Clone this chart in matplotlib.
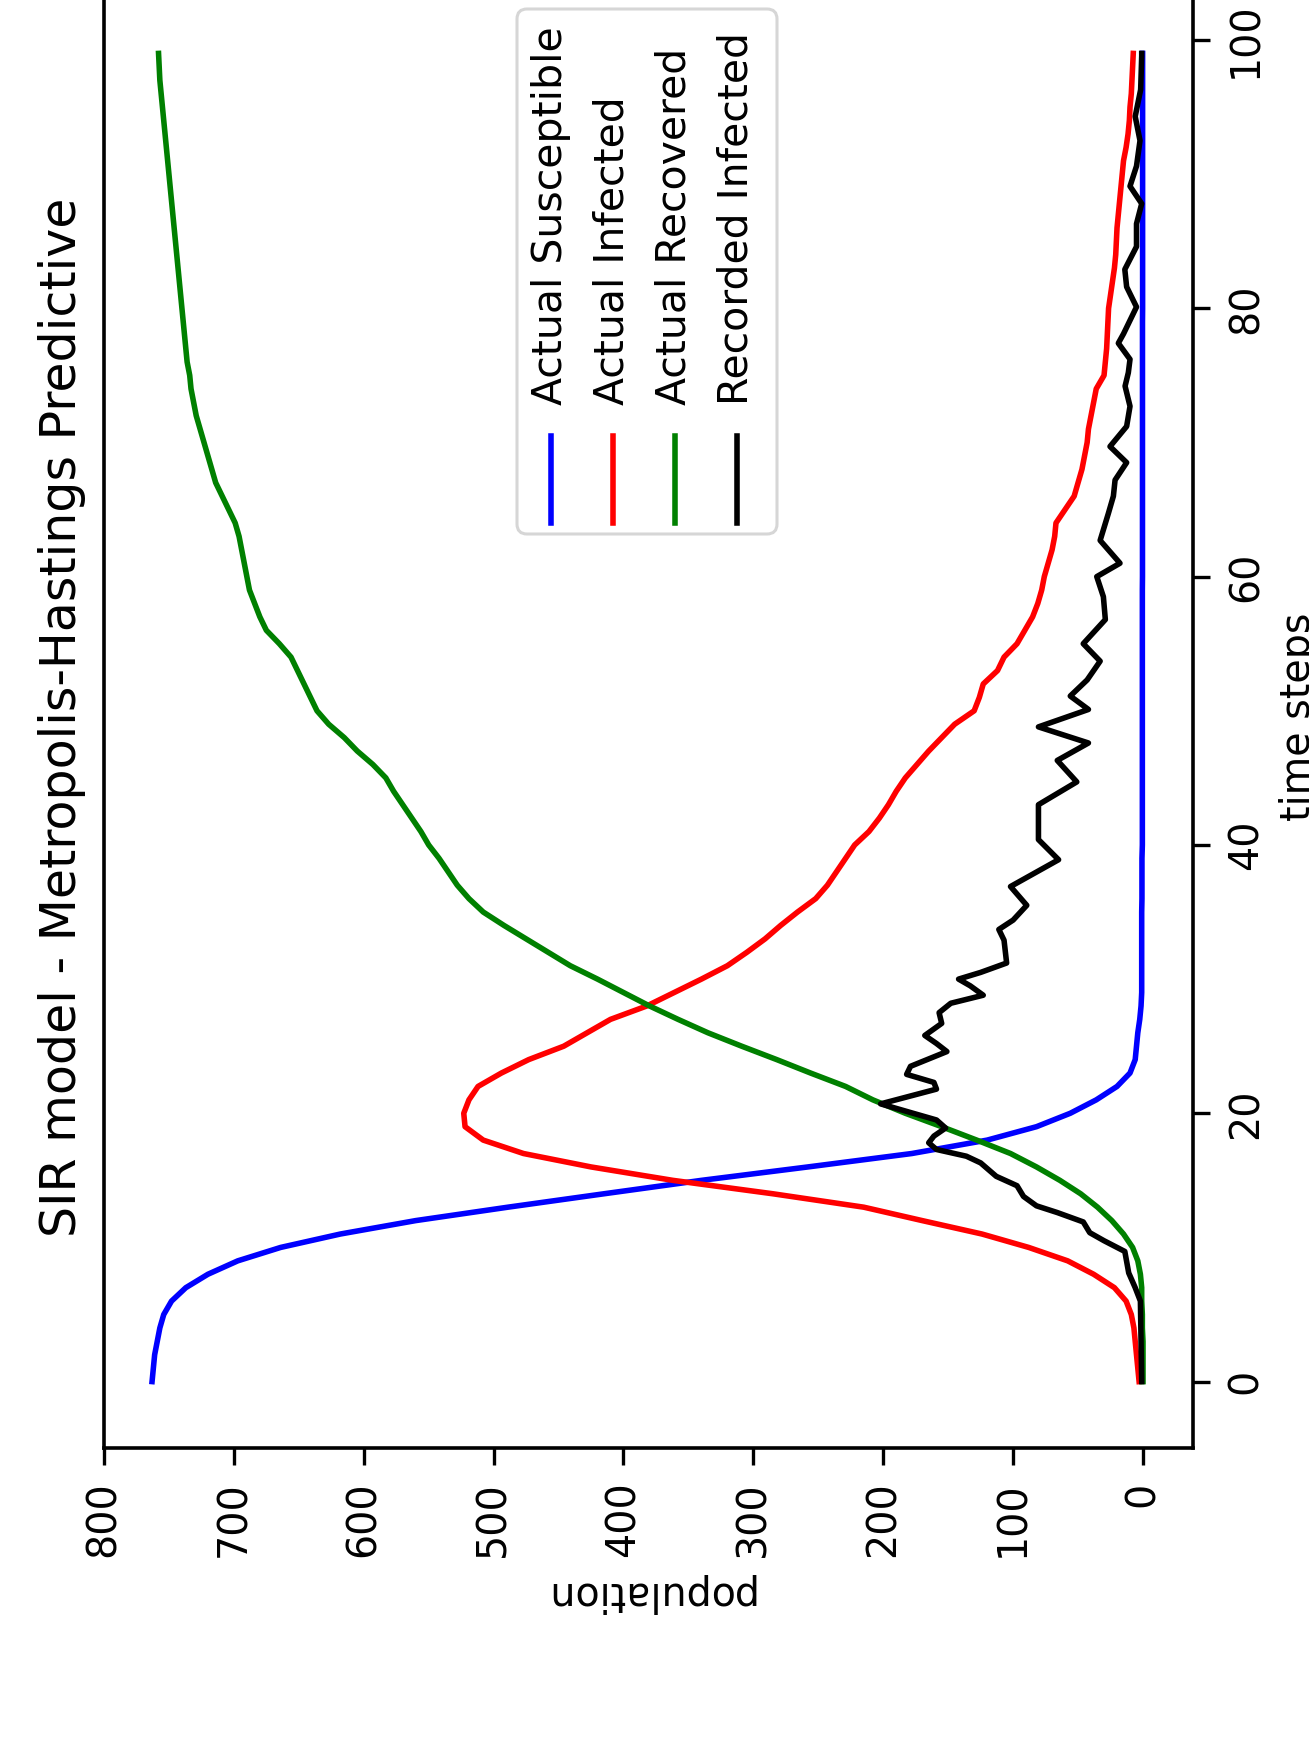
import matplotlib
matplotlib.use("Agg")
import matplotlib.pyplot as plt
import numpy as np
from matplotlib.lines import Line2D
from matplotlib.patches import FancyBboxPatch
from matplotlib.transforms import IdentityTransform

# ---------------- data ----------------
time_steps = np.arange(100)

susceptible = [
    763, 762, 761, 759, 757, 754, 748, 737, 720, 697,
    664, 618, 560, 489, 415, 340, 258, 178, 120, 82,
    56, 36, 20, 10, 6, 5, 4, 2.5, 1.5, 1,
    1, 1, 1, 1, 1, 1, 0.8, 0.8, 0.8, 0.8,
    0.5, 0.5, 0.5, 0.5, 0.5, 0.5, 0.5, 0.5, 0.5, 0.5,
    0.5, 0.5, 0.5, 0.5, 0.5, 0.5, 0.5, 0.5, 0.5, 0.5,
    0.4, 0.4, 0.4, 0.4, 0.4, 0.4, 0.4, 0.4, 0.4, 0.4,
    0.4, 0.4, 0.4, 0.4, 0.4, 0.4, 0.4, 0.4, 0.4, 0.4,
    0.3, 0.3, 0.3, 0.3, 0.3, 0.3, 0.3, 0.3, 0.3, 0.3,
    0.3, 0.3, 0.3, 0.3, 0.3, 0.3, 0.3, 0.3, 0.3, 0.3,
]

infected = [
    3, 4, 5, 6, 7, 9, 13, 22, 38, 58,
    88, 124, 170, 215, 285, 362, 425, 477, 508, 522,
    523, 519, 512, 494, 473, 446, 428, 410, 382, 361,
    340, 320, 305, 291, 279, 266, 252, 243, 236, 229,
    222, 211, 203, 196, 190, 183, 174, 165, 155, 145,
    130, 126, 123, 112, 107, 97, 91, 85, 81, 78,
    76, 73, 70, 68, 67, 60, 53, 50, 47, 45,
    43, 42, 40, 38, 36, 30, 29, 28, 27.5, 27,
    26.5, 25, 23.5, 22, 21, 20.5, 20, 19, 18, 17,
    16, 15, 13, 11.5, 10.5, 10, 9, 8.5, 8, 7.5,
]

recovered = [
    0, 0, 0, 0, 0.5, 0.5, 1, 1, 2, 4,
    8, 15, 24, 35, 48, 64, 82, 102, 128, 155,
    183, 208, 229, 256, 282, 309, 335, 358, 380, 400,
    420, 441, 458, 475, 492, 508, 519, 528, 535, 542,
    550, 556, 563, 570, 577, 583, 593, 605, 615, 627,
    636, 641, 646, 651, 656, 665, 675, 680, 684, 688,
    690, 692, 694, 696, 699, 704, 709, 714, 717, 720,
    723, 726, 729, 731, 733, 734, 736, 737, 738, 739,
    740, 741, 742, 743, 744, 745, 746, 747, 748, 749,
    750, 751, 752, 753, 754, 755, 756, 757, 757.5, 758,
]

recorded_t = [
    0, 6, 7, 8.1, 9.7, 10.5, 11.1, 11.9, 12.6, 13.1, 13.8, 14.6, 15.3, 16.3,
    16.8, 17.3, 17.8, 18.3, 18.9, 19.5, 20.0, 20.7, 21.8, 22.3, 22.9, 23.5,
    24.6, 25.2, 25.8, 26.7, 27.5, 28.2, 28.8, 29.5, 30.0, 30.5, 31.2, 32.9,
    33.7, 34.4, 35.5, 36.9, 38.9, 40.4, 43.0, 44.7, 46.3, 47.6, 48.8, 50.1,
    51.1, 52.3, 53.7, 55.0, 56.8, 58.5, 60.0, 61.0, 62.7, 64.7, 66.0, 67.2,
    68.5, 69.7, 71.2, 72.7, 74.2, 75.2, 76.2, 77.4, 78.1, 80.1, 81.6, 82.9,
    84.6, 86.3, 87.8, 89.1, 90.6, 92.5, 94.3, 96.3, 98.8, 99,
]
recorded_infected = [
    1, 2, 6, 11, 14, 30, 41, 46, 66, 82, 92, 97, 113, 125,
    136, 159, 165, 161, 152, 159, 177, 202, 159, 161, 182, 179,
    151, 159, 168, 155, 157, 148, 123, 133, 142, 125, 105, 107,
    111, 100, 89.5, 102, 65, 80.5, 80.5, 51, 66, 42, 80.5, 42,
    56, 43, 33, 46, 29, 30.5, 35.6, 17.7, 33, 26.7, 22.8, 21.5,
    12.6, 25.4, 12.6, 10, 13.8, 11.3, 10, 19, 15, 5, 12.6, 14,
    5, 5, 1, 10, 5, 2.3, 6, 1.8, 1, 1,
]

series_labels = ["Actual Susceptible", "Actual Infected", "Actual Recovered", "Recorded Infected"]
series_colors = ["blue", "red", "green", "black"]
population_ticks = [0, 100, 200, 300, 400, 500, 600, 700, 800]
time_ticks = [0, 20, 40, 60, 80, 100]

# ---------------- figure (drawn rotated 90 degrees CCW) ----------------
W, H = 1309, 1745
fig = plt.figure(figsize=(W / 100, H / 100), dpi=100)

ax_l, ax_r, ax_t, ax_b = 104, 1193, -13, 1448
ax = fig.add_axes([ax_l / W, 1 - ax_b / H, (ax_r - ax_l) / W, (ax_b - ax_t) / H])

LW = 4.0
ax.plot(susceptible, time_steps, color=series_colors[0], lw=LW)
ax.plot(infected, time_steps, color=series_colors[1], lw=LW)
ax.plot(recovered, time_steps, color=series_colors[2], lw=LW)
ax.plot(recorded_infected, recorded_t, color=series_colors[3], lw=LW)

ax.set_xlim(800, -38.5)
ax.set_ylim(-4.95, 103.95)
ax.set_xticks(population_ticks)
ax.set_yticks(time_ticks)
ax.yaxis.tick_right()
ax.tick_params(axis="both", labelsize=28.5, width=2.4, length=12, pad=12)
ax.tick_params(axis="x", labelrotation=90)
ax.tick_params(axis="y", labelrotation=90)
for lbl in ax.get_yticklabels():
    lbl.set_va("center")
for sp in ax.spines.values():
    sp.set_linewidth(2.6)

# title / axis labels
fig.text(86 / W, 1 - 717 / H, "SIR model - Metropolis-Hastings Predictive",
         rotation=90, ha="right", va="center", fontsize=35.3)
fig.text(648 / W, 1 - 1593 / H, "population", rotation=180,
         ha="center", va="center", fontsize=28.5)
fig.text(1299 / W, 1 - 717 / H, "time steps", rotation=90,
         ha="center", va="center", fontsize=28.5)

# legend (manual, rotated)
idt = IdentityTransform()
box = FancyBboxPatch((517, H - 534), 260, 525,
                     boxstyle="round,pad=0,rounding_size=10",
                     transform=idt, facecolor=(1, 1, 1, 0.8),
                     edgecolor=(0.8, 0.8, 0.8, 0.8), lw=2.2, zorder=5)
fig.add_artist(box)
leg_x = [551, 613, 675, 737]
for x, lab, col in zip(leg_x, series_labels, series_colors):
    fig.add_artist(Line2D([x, x], [H - 436, H - 523], color=col, lw=LW,
                          transform=idt, zorder=6))
    fig.text(x, H - 405, lab, rotation=90, ha="center", va="bottom",
             fontsize=29.5, transform=idt, zorder=6)

fig.savefig("out.png", dpi=100)
